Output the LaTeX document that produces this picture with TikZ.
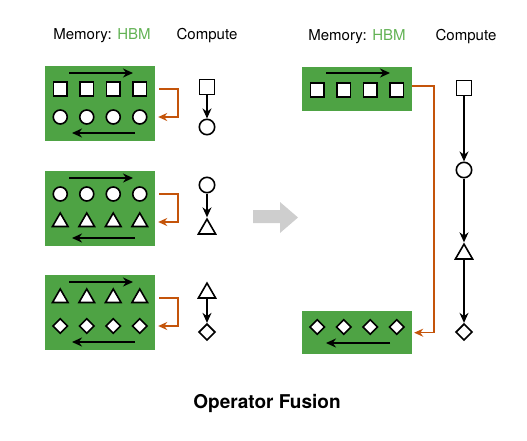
\documentclass[tikz,border=0pt]{standalone}
\usepackage{fontspec}
\setmainfont{TeX Gyre Heros}
\usetikzlibrary{shapes.geometric,positioning,arrows.meta,calc}

\definecolor{hbmfill}{RGB}{78,163,68}
\definecolor{hbmtext}{RGB}{98,178,84}
\definecolor{spillcol}{RGB}{196,84,10}
\definecolor{arrowgray}{RGB}{206,206,206}

\begin{document}
\begin{tikzpicture}[x=1pt, y=-1pt,
    hbm/.style={fill=hbmfill, minimum width=110pt, inner sep=0pt},
    op/.style={draw, line width=1.6pt, fill=white, inner sep=0pt},
    sq/.style={op, rectangle, minimum size=13.5pt},
    circ/.style={op, circle, minimum size=14pt},
    tri/.style={op, regular polygon, regular polygon sides=3, minimum size=18pt},
    dia/.style={op, diamond, minimum size=15pt},
    cmp/.style={scale=1.1},
    sweep/.style={line width=1.5pt, -{Stealth[length=10pt, width=9pt]}},
    spill/.style={spillcol, line width=1.5pt, -{Stealth[length=9pt, width=8pt]}},
    hdr/.style={font=\fontsize{15}{17}\selectfont},
]
\useasboundingbox (0,0) rectangle (527,440);

% Headers
\node[hdr] (memL) at (102,36) {Memory: \textcolor{hbmtext}{HBM}};
\node[hdr] (cmpL) at (207,36) {Compute};
\node[hdr] (memR) at (357,37) {Memory: \textcolor{hbmtext}{HBM}};
\node[hdr] (cmpR) at (466,37) {Compute};

% Unfused: one HBM round trip per operator
\foreach \y/\shA/\shB/\ya/\yb [count=\i] in {66/sq/circ/87/127, 171/circ/tri/185/229, 275/tri/dia/293/332} {
  \node[hbm, minimum height=75pt, anchor=north] (mem\i) at (100,\y) {};
  \foreach \k in {1,...,4} {
    \node[\shA] (mem\i a\k) at ($(mem\i.north)+(-66.25+26.5*\k,23)$) {};
    \node[\shB] (mem\i b\k) at ($(mem\i.north)+(-66.25+26.5*\k,51)$) {};
  }
  \draw[sweep] ($(mem\i.north)+(-31,7)$) -- ++(64,0);
  \draw[sweep] ($(mem\i.north)+(35,67)$) -- ++(-63,0);
  \draw[spill] ([xshift=4pt]mem\i.east |- mem\i a4.center) -- ++(19,0)
    |- ([xshift=3pt]mem\i.east |- mem\i b4.center);
  % compute step
  \node[\shA, cmp] (cmp\i a) at (207,\ya) {};
  \node[\shB, cmp] (cmp\i b) at (207,\yb) {};
  \draw[sweep] (cmp\i a) -- (cmp\i b);
}

% Gray arrow
\fill[arrowgray] (253,210) -- (280,210) -- (280,202) -- (298,217.5)
  -- (280,233) -- (280,223) -- (253,223) -- cycle;

% Fused: read once, write once
\node[hbm, minimum height=44pt, anchor=north] (fusedin) at (357,67) {};
\node[hbm, minimum height=43pt, anchor=north] (fusedout) at (357,311) {};
\foreach \k in {1,...,4} {
  \node[sq] (in\k) at ($(fusedin.north)+(-66.25+26.5*\k,23)$) {};
  \node[dia] (out\k) at ($(fusedout.north)+(-66.25+26.5*\k,16)$) {};
}
\draw[sweep] ($(fusedin.north)+(-31,6)$) -- ++(64,0);
\draw[sweep] ($(fusedout.north)+(33,32)$) -- ++(-64,0);
\draw[spill] ([yshift=3pt]fusedin.east) -- ++(22,0) |- ([xshift=2pt]fusedout.east);

\node[sq, cmp] (f1) at (464,88) {};
\node[circ, cmp] (f2) at (464,170) {};
\node[tri, cmp] (f3) at (464,254) {};
\node[dia, cmp] (f4) at (464,332) {};
\draw[sweep] (f1) -- (f2);
\draw[sweep] (f2) -- (f3);
\draw[sweep] (f3) -- (f4);

% Caption
\node[font=\fontsize{19}{22}\selectfont\bfseries] (title) at (267,403) {Operator Fusion};
\end{tikzpicture}
\end{document}
